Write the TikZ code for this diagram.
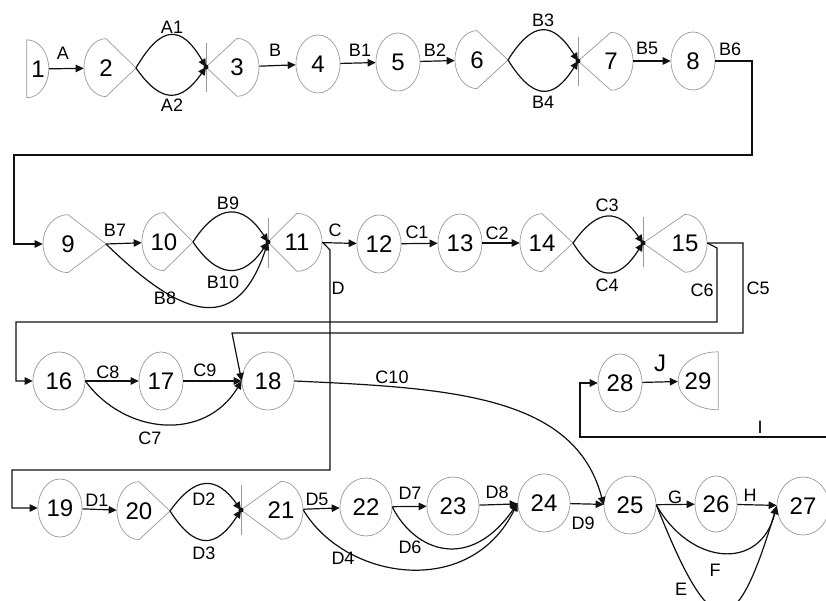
\documentclass[tikz,border=0pt]{standalone}
\usepackage{fontspec}
\setmainfont{Liberation Sans}
\usepackage{xcolor}
\usetikzlibrary{arrows.meta, shapes.geometric}
\definecolor{rim}{HTML}{9A9A9A}
\definecolor{ink}{HTML}{111111}

\begin{document}
\begin{tikzpicture}[x=1pt, y=1pt,
    ev/.style={ellipse, draw=rim, line width=0.7pt, minimum width=44pt, minimum height=58pt, inner sep=0pt, font=\fontsize{24}{26}\selectfont},
    cv/.style={ev, minimum width=52pt},
    dv/.style={ev, draw=none},
    hv/.style={rectangle, minimum height=58pt, inner sep=0pt, font=\fontsize{24}{26}\selectfont},
    rimline/.style={draw=rim, line width=0.7pt},
    arr/.style={-{Triangle[length=8pt, width=7.5pt]}, line width=1.2pt, color=ink},
    lbl/.style={font=\fontsize{18}{20}\selectfont, inner sep=0pt}
]
    \useasboundingbox (0,0) rectangle (826,600);
    \fill[white] (0,0) rectangle (826,600);
    \clip (0,0) rectangle (826,600);

    % row 1
    \node[hv, minimum width=22pt] (n1) at (38,531) {1};
    \node[dv] (n2) at (106,532) {2};
    \coordinate (t2) at (136,532);
    \coordinate (j3) at (206,533);
    \node[dv] (n3) at (237,533) {3};
    \node[ev] (n4) at (318,536) {4};
    \node[ev] (n5) at (398,538) {5};
    \node[dv] (n6) at (477,540) {6};
    \coordinate (t6) at (508,540);
    \coordinate (j7) at (578,539);
    \node[dv] (n7) at (611,539) {7};
    \node[ev] (n8) at (693,539) {8};

    % row 2
    \node[dv, minimum width=50pt] (n9) at (68,356) {9};
    \coordinate (t9) at (106,356);
    \node[dv] (n10) at (164,358) {10};
    \coordinate (t10) at (193,358);
    \coordinate (j11) at (268,358);
    \node[dv, minimum width=50pt] (n11) at (297,358) {11};
    \node[ev] (n12) at (379,356) {12};
    \node[ev] (n13) at (460,357) {13};
    \node[dv] (n14) at (542,357) {14};
    \coordinate (t14) at (573,357);
    \coordinate (j15) at (643,357);
    \node[dv] (n15) at (685,357) {15};

    % row 3
    \node[cv] (n16) at (59,219) {16};
    \node[ev] (n17) at (161,219) {17};
    \node[cv] (n18) at (268,219) {18};
    \node[ev] (n28) at (620,217) {28};
    \node[hv, minimum width=40pt] (n29) at (698,219) {29};
    \coordinate (iend) at (826,163);

    % row 4
    \node[ev] (n19) at (60,92) {19};
    \node[dv] (n20) at (139,89) {20};
    \coordinate (t20) at (170,89);
    \coordinate (j21) at (241,90);
    \node[dv] (n21) at (281,90) {21};
    \node[cv] (n22) at (366,93) {22};
    \node[cv] (n23) at (453,94) {23};
    \node[cv] (n24) at (544,97) {24};
    \node[cv] (n25) at (630,95) {25};
    \node[ev, minimum width=42pt, minimum height=56pt] (n26) at (716,96) {26};
    \node[cv] (n27) at (803,94) {27};

    % outlines
    \draw[rimline] (n1.north west) arc[start angle=90, end angle=-90, x radius=22pt, y radius=29pt] -- cycle;
    \draw[rimline] (n2.north) arc[start angle=90, end angle=270, x radius=22pt, y radius=29pt] -- (t2) -- cycle;
    \draw[rimline] (n3.south) arc[start angle=-90, end angle=90, x radius=22pt, y radius=29pt] -- (j3) -- cycle;
    \draw[rimline] (n6.north) arc[start angle=90, end angle=270, x radius=22pt, y radius=29pt] -- (t6) -- cycle;
    \draw[rimline] (n7.south) arc[start angle=-90, end angle=90, x radius=22pt, y radius=29pt] -- (j7) -- cycle;
    \draw[rimline] (n9.north) arc[start angle=90, end angle=270, x radius=25pt, y radius=29pt] -- (t9) -- cycle;
    \draw[rimline] (n10.north) arc[start angle=90, end angle=270, x radius=22pt, y radius=29pt] -- (t10) -- cycle;
    \draw[rimline] (n11.south) arc[start angle=-90, end angle=90, x radius=25pt, y radius=29pt] -- (j11) -- cycle;
    \draw[rimline] (n14.north) arc[start angle=90, end angle=270, x radius=22pt, y radius=29pt] -- (t14) -- cycle;
    \draw[rimline] (n15.south) arc[start angle=-90, end angle=90, x radius=22pt, y radius=29pt] -- (j15) -- cycle;
    \draw[rimline] (n29.north east) arc[start angle=90, end angle=270, x radius=40pt, y radius=29pt] -- cycle;
    \draw[rimline] (n20.north) arc[start angle=90, end angle=270, x radius=22pt, y radius=29pt] -- (t20) -- cycle;
    \draw[rimline] (n21.south) arc[start angle=-90, end angle=90, x radius=22pt, y radius=29pt] -- (j21) -- cycle;
    \draw[rimline] ([yshift=24pt]j3) -- ([yshift=-25pt]j3);
    \draw[rimline] ([yshift=24pt]j7) -- ([yshift=-25pt]j7);
    \draw[rimline] ([yshift=24pt]j11) -- ([yshift=-26pt]j11);
    \draw[rimline] ([yshift=26pt]j15) -- ([yshift=-24pt]j15);
    \draw[rimline] ([yshift=25pt]j21) -- ([yshift=-25pt]j21);

    % connectors
    \draw[arr] (n1) -- (n2);
    \draw[arr] (t2) .. controls +(25,43) and +(-25,43) .. (j3);
    \draw[arr] (t2) .. controls +(25,-36) and +(-25,-36) .. (j3);
    \draw[arr] (n3) -- (n4);
    \draw[arr] (n4) -- (n5);
    \draw[arr] (n5) -- (n6);
    \draw[arr] (t6) .. controls +(25,40) and +(-25,40) .. (j7);
    \draw[arr] (t6) .. controls +(25,-40) and +(-25,-40) .. (j7);
    \draw[arr] (n7) -- (n8);
    \draw[arr] (n8.east) -- (752,539) -- (752,445) -- (14,445) -- (14,356) -- (n9);

    \draw[arr] (t9) -- (n10);
    \draw[arr] (t10) .. controls +(25,39) and +(-25,39) .. (j11);
    \draw[arr] (t10) .. controls +(25,-37) and +(-25,-37) .. (j11);
    \draw[arr] (t9) .. controls (176,288) and (235,258) .. (j11);
    \draw[arr] (n11) -- (n12);
    \draw[arr] (n11.east) -- (330,350) -- (330,130) -- (12,130) -- (12,92) -- (n19);
    \draw[arr] (n12) -- (n13);
    \draw[arr] (n13) -- (n14);
    \draw[arr] (t14) .. controls +(25,35) and +(-25,35) .. (j15);
    \draw[arr] (t14) .. controls +(25,-39) and +(-25,-39) .. (j15);
    \draw[arr] (n15.east) -- (717,352) -- (717,278) -- (16,278) -- (16,219) -- (n16);
    \draw[arr] (n15.east) -- (743,357) -- (743,267) -- (232,267) -- (n18.west);

    \draw[arr] (n16) -- (n17);
    \draw[arr] (n17) -- (n18);
    \draw[arr] (n16.east) .. controls (125,165) and (205,158) .. (n18.west);
    \draw[arr] (n18.east) .. controls (450,212) and (575,205) .. (n25.west);
    \draw[arr] (n28) -- (n29);
    \draw[arr] (iend) -- (580,163) -- (580,217) -- (n28);

    \draw[arr] (n19) -- (n20);
    \draw[arr] (t20) .. controls +(25,35) and +(-25,35) .. (j21);
    \draw[arr] (t20) .. controls +(25,-39) and +(-25,-39) .. (j21);
    \draw[arr] (n21) -- (n22);
    \draw[arr] (n22) -- (n23);
    \draw[arr] (n23) -- (n24);
    \draw[arr] (n24) -- (n25);
    \draw[arr] (n25) -- (n26);
    \draw[arr] (n26) -- (n27);
    \draw[arr] (n21.east) .. controls (345,20) and (470,0) .. (n24.west);
    \draw[arr] (n22.east) .. controls (415,48) and (470,28) .. (n24.west);
    \draw[arr] (n25.east) .. controls (690,35) and (760,28) .. (n27.west);
    \draw[arr] (n25.east) .. controls (712,-45) and (735,-45) .. (n27.west);

    \fill[ink] (j3) circle[radius=2.5pt];
    \fill[ink] (j7) circle[radius=2.5pt];
    \fill[ink] (j11) circle[radius=2.5pt];
    \fill[ink] (j15) circle[radius=2.5pt];
    \fill[ink] (j21) circle[radius=2.5pt];

    % labels
    \node[lbl] (lA) at (63,547) {A};
    \node[lbl] (lA1) at (172,573) {A1};
    \node[lbl] (lA2) at (172,495) {A2};
    \node[lbl] (lB) at (275,550) {B};
    \node[lbl] (lB1) at (360,550) {B1};
    \node[lbl] (lB2) at (435,550) {B2};
    \node[lbl] (lB3) at (543,580) {B3};
    \node[lbl] (lB4) at (543,498) {B4};
    \node[lbl] (lB5) at (647,552) {B5};
    \node[lbl] (lB6) at (730,551) {B6};

    \node[lbl] (lB7) at (115,370) {B7};
    \node[lbl] (lB9) at (228,397) {B9};
    \node[lbl] (lB10) at (223,318) {B10};
    \node[lbl] (lB8) at (165,302) {B8};
    \node[lbl] (lC) at (335,370) {C};
    \node[lbl] (lD) at (338,312) {D};
    \node[lbl] (lC1) at (417,368) {C1};
    \node[lbl] (lC2) at (497,367) {C2};
    \node[lbl] (lC3) at (607,395) {C3};
    \node[lbl] (lC4) at (607,315) {C4};
    \node[lbl] (lC6) at (702,310) {C6};
    \node[lbl] (lC5) at (758,312) {C5};

    \node[lbl] (lC8) at (108,228) {C8};
    \node[lbl] (lC9) at (205,230) {C9};
    \node[lbl] (lC7) at (150,162) {C7};
    \node[lbl] (lC10) at (392,223) {C10};
    \node[lbl, font=\fontsize{24}{26}\selectfont] (lJ) at (660,237) {J};
    \node[lbl] (lI) at (760,173) {I};

    \node[lbl] (lD1) at (97,100) {D1};
    \node[lbl] (lD2) at (204,101) {D2};
    \node[lbl] (lD3) at (204,47) {D3};
    \node[lbl] (lD5) at (317,101) {D5};
    \node[lbl] (lD7) at (410,107) {D7};
    \node[lbl] (lD6) at (410,53) {D6};
    \node[lbl] (lD4) at (343,42) {D4};
    \node[lbl] (lD8) at (497,108) {D8};
    \node[lbl] (lD9) at (583,77) {D9};
    \node[lbl] (lG) at (675,103) {G};
    \node[lbl] (lH) at (750,105) {H};
    \node[lbl] (lF) at (715,30) {F};
    \node[lbl] (lE) at (681,11) {E};
\end{tikzpicture}
\end{document}
